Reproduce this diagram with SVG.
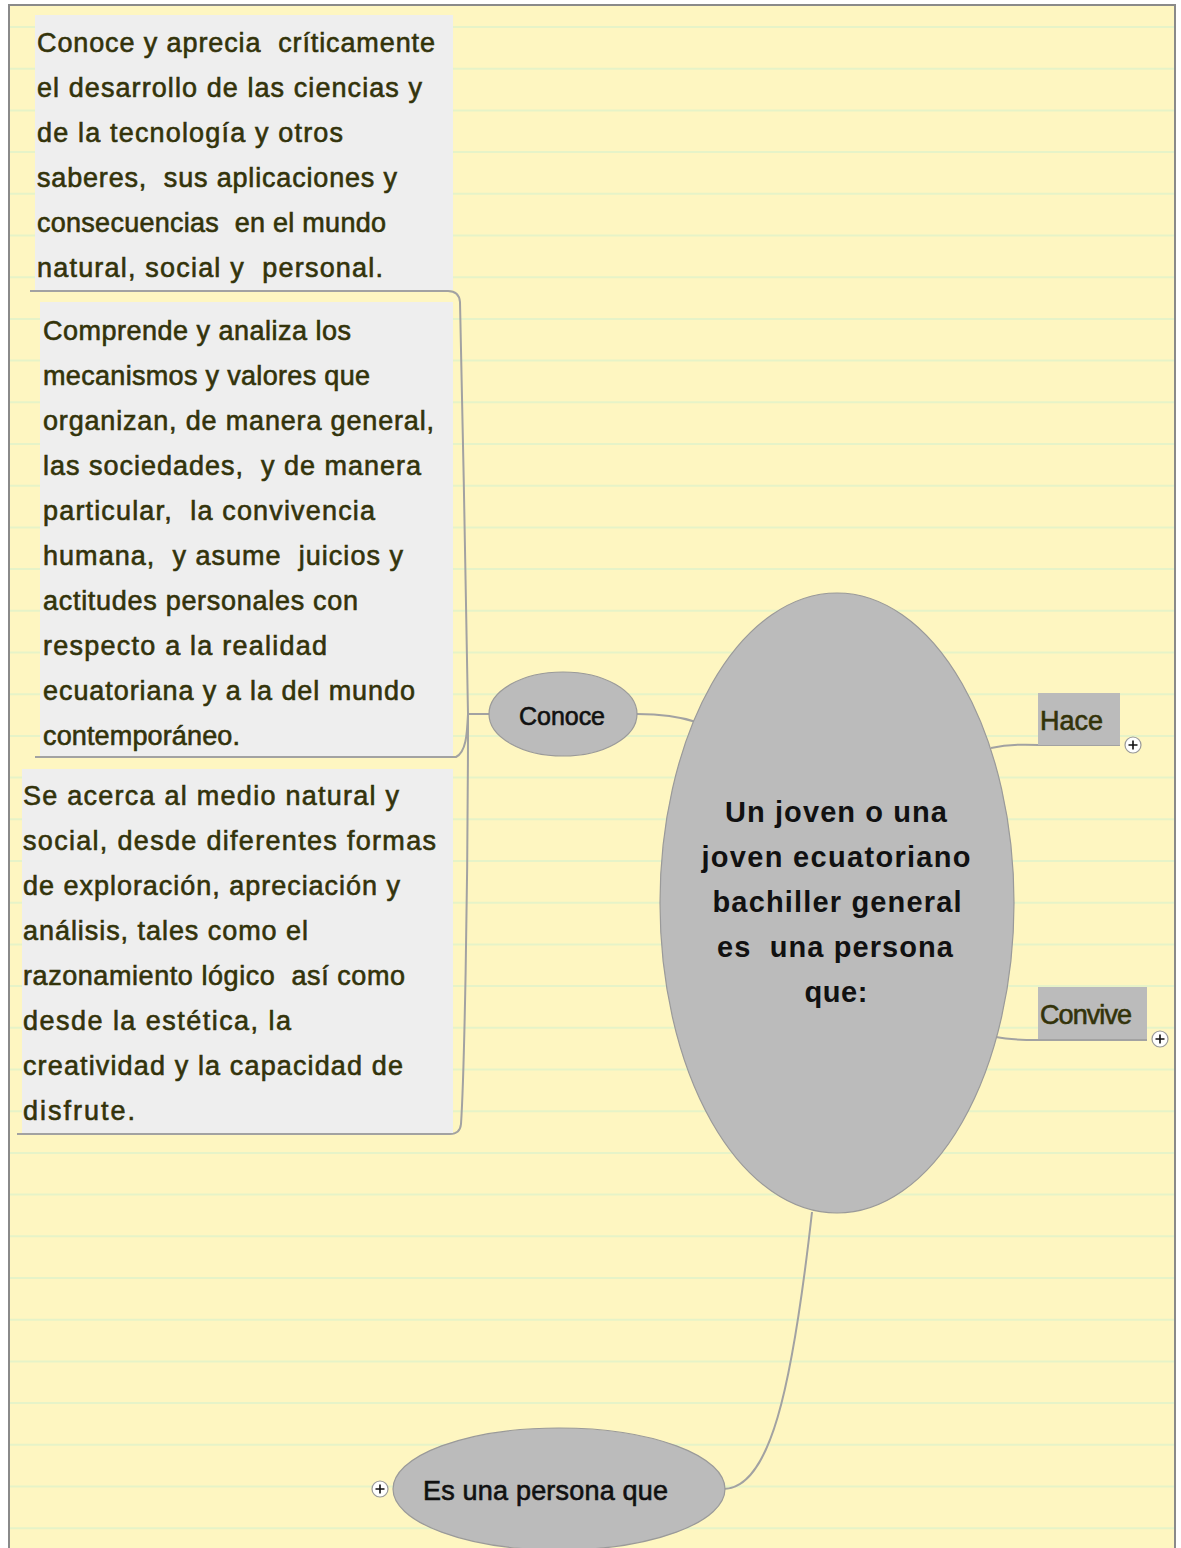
<svg xmlns="http://www.w3.org/2000/svg" width="1181" height="1548" viewBox="0 0 1181 1548">
<defs>
<style>
.bg{fill:#FEF6C1}
.rule{stroke:#E6F3C8;stroke-width:2;fill:none}
.frame{fill:none;stroke:#8A8A8A;stroke-width:2}
.box{fill:#EEEEEE}
.tag{fill:#BBBBBB}
.ell{fill:#BBBBBB;stroke:#9A9A9A;stroke-width:1.2}
.conn{fill:none;stroke:#A2A2A2;stroke-width:2}
.t{font-family:"Liberation Sans","DejaVu Sans",sans-serif;font-size:27px;fill:#33330A;stroke:#33330A;stroke-width:0.6;white-space:pre}
.k{font-family:"Liberation Sans","DejaVu Sans",sans-serif;font-size:25px;fill:#111111;stroke:#111111;stroke-width:0.6;white-space:pre}
.c{font-family:"Liberation Sans","DejaVu Sans",sans-serif;font-size:29px;font-weight:bold;fill:#111111;text-anchor:middle;white-space:pre}
.plus circle{fill:#FFFFFF;stroke:#9A9A9A;stroke-width:1.2}
.plus path{stroke:#111111;stroke-width:1.6}
</style>
</defs>
<rect x="0" y="0" width="1181" height="1548" fill="#FFFFFF"/>
<rect class="bg" x="9" y="5" width="1166" height="1543"/>
<path class="rule" d="M10 27H1174M10 68.7H1174M10 110.4H1174M10 152.1H1174M10 193.8H1174M10 235.5H1174M10 277.2H1174M10 318.9H1174M10 360.6H1174M10 402.3H1174M10 444H1174M10 485.7H1174M10 527.4H1174M10 569.1H1174M10 610.8H1174M10 652.5H1174M10 694.2H1174M10 735.9H1174M10 777.6H1174M10 819.3H1174M10 861H1174M10 902.7H1174M10 944.4H1174M10 986.1H1174M10 1027.8H1174M10 1069.5H1174M10 1111.2H1174M10 1152.9H1174M10 1194.6H1174M10 1236.3H1174M10 1278H1174M10 1319.7H1174M10 1361.4H1174M10 1403.1H1174M10 1444.8H1174M10 1486.5H1174M10 1528.2H1174"/>
<path class="frame" d="M9 1548V5H1175V1548"/>

<g id="connectors">
<path class="conn" d="M490 714H468C466 600 463 430 460 302Q459 291 448 291H30"/>
<path class="conn" d="M468 714C467 735 466 752 456 757H35"/>
<path class="conn" d="M468 714C468 900 464 1080 461 1124Q460 1134 450 1134H17"/>
<path class="conn" d="M637 714C660 714 678 716 696 722"/>
<path class="conn" d="M991 748C1005 745 1020 744 1038 745H1120"/>
<path class="conn" d="M996 1037C1010 1040 1022 1040 1038 1040H1147"/>
<path class="conn" d="M723 1489C770 1489 792 1390 812 1212"/>
</g>

<g id="node-criticamente">
<rect class="box" x="35" y="15" width="418" height="275"/>
<text class="t" x="37" y="52" textLength="398">Conoce y aprecia  críticamente</text>
<text class="t" x="37" y="97" textLength="385">el desarrollo de las ciencias y</text>
<text class="t" x="37" y="142" textLength="306">de la tecnología y otros</text>
<text class="t" x="37" y="187" textLength="360">saberes,  sus aplicaciones y</text>
<text class="t" x="37" y="232" textLength="349">consecuencias  en el mundo</text>
<text class="t" x="37" y="277" textLength="346">natural, social y  personal.</text>
</g>

<g id="node-comprende">
<rect class="box" x="40" y="302" width="413" height="454"/>
<text class="t" x="43" y="340" textLength="308">Comprende y analiza los</text>
<text class="t" x="43" y="385" textLength="327">mecanismos y valores que</text>
<text class="t" x="43" y="430" textLength="391">organizan, de manera general,</text>
<text class="t" x="43" y="475" textLength="378">las sociedades,  y de manera</text>
<text class="t" x="43" y="520" textLength="332">particular,  la convivencia</text>
<text class="t" x="43" y="565" textLength="360">humana,  y asume  juicios y</text>
<text class="t" x="43" y="610" textLength="315">actitudes personales con</text>
<text class="t" x="43" y="655" textLength="284">respecto a la realidad</text>
<text class="t" x="43" y="700" textLength="372">ecuatoriana y a la del mundo</text>
<text class="t" x="43" y="745" textLength="197">contemporáneo.</text>
</g>

<g id="node-acerca">
<rect class="box" x="22" y="769" width="431" height="364"/>
<text class="t" x="23" y="805" textLength="376">Se acerca al medio natural y</text>
<text class="t" x="23" y="850" textLength="413">social, desde diferentes formas</text>
<text class="t" x="23" y="895" textLength="377">de exploración, apreciación y</text>
<text class="t" x="23" y="940" textLength="285">análisis, tales como el</text>
<text class="t" x="23" y="985" textLength="382">razonamiento lógico  así como</text>
<text class="t" x="23" y="1030" textLength="268">desde la estética, la</text>
<text class="t" x="23" y="1075" textLength="380">creatividad y la capacidad de</text>
<text class="t" x="23" y="1120" textLength="112">disfrute.</text>
</g>

<g id="node-conoce">
<ellipse class="ell" cx="563" cy="714" rx="74" ry="42"/>
<text class="k" x="519" y="725" textLength="86">Conoce</text>
</g>

<g id="node-central">
<ellipse class="ell" cx="837" cy="903" rx="177" ry="310"/>
<text class="c" x="836" y="822" textLength="222">Un joven o una</text>
<text class="c" x="836" y="867" textLength="269">joven ecuatoriano</text>
<text class="c" x="837" y="912" textLength="249">bachiller general</text>
<text class="c" x="835" y="957" textLength="236">es  una persona</text>
<text class="c" x="836" y="1002" textLength="63">que:</text>
</g>

<g id="node-hace">
<rect class="tag" x="1038" y="693" width="82" height="52"/>
<text class="t" x="1040" y="730" textLength="63">Hace</text>
<g class="plus"><circle cx="1133" cy="745" r="8"/><path d="M1128.5 745H1137.5M1133 740.5V749.5"/></g>
</g>

<g id="node-convive">
<rect class="tag" x="1038" y="987" width="109" height="52"/>
<text class="t" x="1040" y="1024" textLength="92">Convive</text>
<g class="plus"><circle cx="1160" cy="1039" r="8"/><path d="M1155.5 1039H1164.5M1160 1034.5V1043.5"/></g>
</g>

<g id="node-persona">
<ellipse class="ell" cx="559" cy="1489" rx="166" ry="61"/>
<text class="k" x="423" y="1500" textLength="245" style="font-size:27px">Es una persona que</text>
<g class="plus"><circle cx="380" cy="1489" r="8"/><path d="M375.5 1489H384.5M380 1484.5V1493.5"/></g>
</g>
</svg>
